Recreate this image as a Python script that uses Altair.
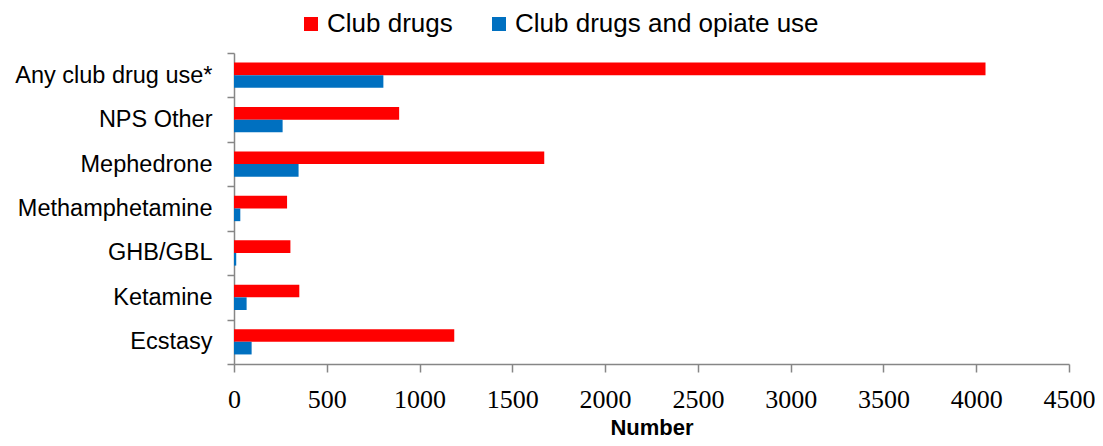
import altair as alt
import pandas as pd

categories = ["Any club drug use*", "NPS Other", "Mephedrone", "Methamphetamine",
              "GHB/GBL", "Ketamine", "Ecstasy"]
club_drugs = [4050, 890, 1672, 286, 304, 352, 1187]
club_opiate = [805, 262, 348, 34, 12, 68, 95]
series = ["Club drugs", "Club drugs and opiate use"]
colors = ["#FF0000", "#0070C0"]
x_ticks = [0, 500, 1000, 1500, 2000, 2500, 3000, 3500, 4000, 4500]

rows = []
for c, a, b in zip(categories, club_drugs, club_opiate):
    rows.append({"category": c, "series": series[0], "value": a})
    rows.append({"category": c, "series": series[1], "value": b})
df = pd.DataFrame(rows)

axis_gray = "#868686"

chart = alt.Chart(df).mark_bar().encode(
    y=alt.Y(
        "category:N", sort=categories,
        scale=alt.Scale(paddingInner=0, paddingOuter=0),
        axis=alt.Axis(title=None, tickBand="extent", labelFont="Liberation Sans",
                      labelFontSize=23.5, labelColor="black", labelPadding=15,
                      labelLimit=0,
                      tickSize=7, tickColor=axis_gray, domainColor=axis_gray,
                      tickWidth=1.5, domainWidth=1.5),
    ),
    yOffset=alt.YOffset("series:N", sort=series,
                        scale=alt.Scale(paddingInner=0, paddingOuter=0.755)),
    x=alt.X(
        "value:Q",
        scale=alt.Scale(domain=[0, 4500], nice=False),
        axis=alt.Axis(values=x_ticks, format="d", title="Number", grid=False,
                      labelFont="Liberation Serif", labelFontSize=26, labelColor="black",
                      labelPadding=14, tickSize=8, tickColor=axis_gray,
                      domainColor=axis_gray, tickWidth=1.5, domainWidth=1.5,
                      titleFont="Liberation Sans", titleFontSize=22, titleFontWeight="bold",
                      titleColor="black", titlePadding=5, labelFlush=False),
    ),
    color=alt.Color(
        "series:N", sort=series,
        scale=alt.Scale(domain=series, range=colors),
        legend=alt.Legend(title=None, orient="none", legendX=64, legendY=-42,
                          direction="horizontal", columns=2, columnPadding=33,
                          symbolType="square", symbolSize=196, symbolStrokeWidth=0,
                          labelFont="Liberation Sans", labelFontSize=26, labelLimit=0,
                          labelColor="black", labelOffset=3),
    ),
).properties(
    width=835, height=311,
    autosize=alt.AutoSizeParams(type="none"),
    padding={"left": 226, "top": 45, "right": 26, "bottom": 74},
).configure_view(stroke=None)

chart.save("out.html", embed_options={"renderer": "svg", "actions": False})
